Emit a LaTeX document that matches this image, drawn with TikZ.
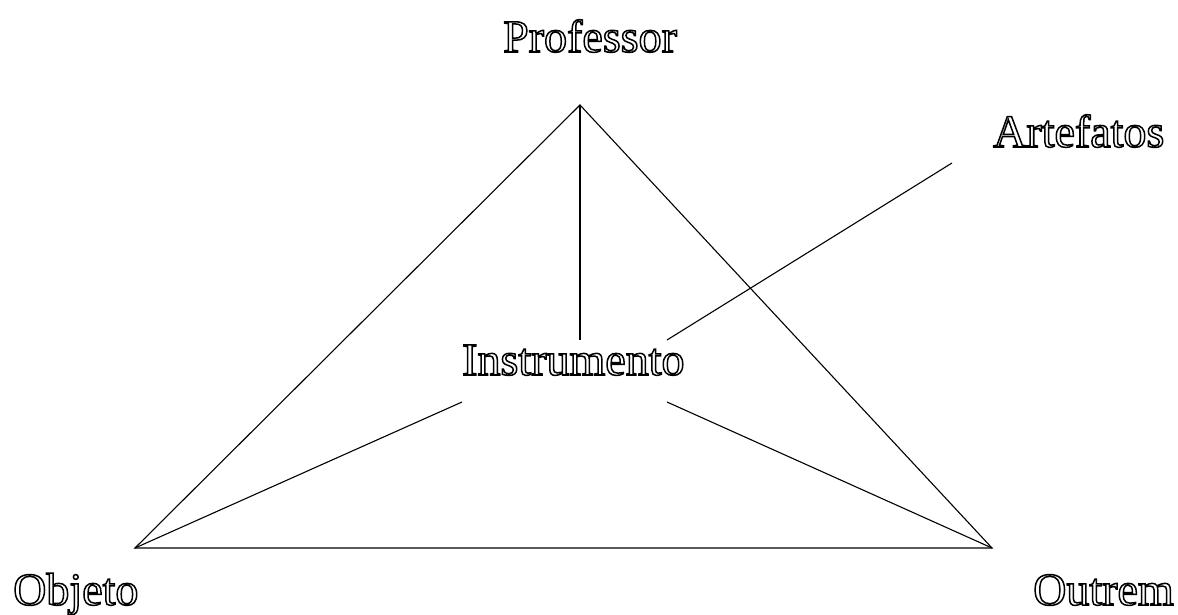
\documentclass[tikz,border=0pt]{standalone}
\usepackage{fontspec}
\setmainfont{Liberation Serif}
\newcommand\outlinetext[1]{\special{pdf:literal direct 1 Tr 1.5 w}#1\special{pdf:literal direct 0 Tr}}
\begin{document}
\begin{tikzpicture}[x=1pt,y=-1pt,
  lbl/.style={anchor=base west,inner sep=0pt,font=\fontsize{46}{50}\selectfont},
  edge/.style={line width=1.1pt}]
\useasboundingbox (0,0) rectangle (1178,615);
\node[lbl] (prof) at (503,52) {\outlinetext{Professor}};
\node[lbl] (art) at (993,147) {\outlinetext{Artefatos}};
\node[lbl] (inst) at (462,375) {\outlinetext{Instrumento}};
\node[lbl] (obj) at (13,605) {\outlinetext{Objeto}};
\node[lbl] (out) at (1033,605) {\outlinetext{Outrem}};
\coordinate (A) at (580,105);
\coordinate (BL) at (135,548);
\coordinate (BR) at (992,548);
\coordinate (IT) at (580,340);
\coordinate (IR) at (667,340);
\coordinate (AE) at (952,163);
\coordinate (ILL) at (462,402);
\coordinate (ILR) at (667,402);
\draw[edge] (A) -- (BL) -- (BR) -- cycle;
\draw[edge] (A) -- (IT);
\draw[edge] (AE) -- (IR);
\draw[edge] (ILL) -- (BL);
\draw[edge] (ILR) -- (BR);
\end{tikzpicture}
\end{document}
